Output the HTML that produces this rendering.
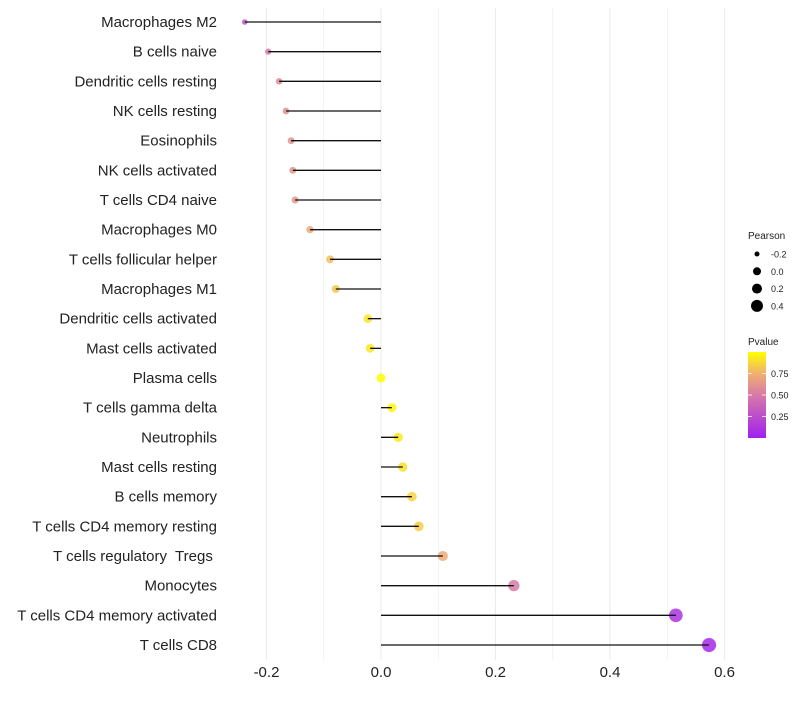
<!DOCTYPE html>
<html><head><meta charset="utf-8"><style>
body{margin:0;background:#fff;font-family:"Liberation Sans",sans-serif}
svg text{font-family:"Liberation Sans",sans-serif;white-space:pre}
</style></head><body>
<svg id="c" width="800" height="700"></svg>
<script>
const categories=["Macrophages M2","B cells naive","Dendritic cells resting","NK cells resting","Eosinophils","NK cells activated","T cells CD4 naive","Macrophages M0","T cells follicular helper","Macrophages M1","Dendritic cells activated","Mast cells activated","Plasma cells","T cells gamma delta","Neutrophils","Mast cells resting","B cells memory","T cells CD4 memory resting","T cells regulatory  Tregs ","Monocytes","T cells CD4 memory activated","T cells CD8"];
const pearson=[-0.238,-0.197,-0.178,-0.166,-0.157,-0.154,-0.150,-0.124,-0.089,-0.079,-0.023,-0.019,0.0,0.019,0.030,0.038,0.054,0.066,0.108,0.232,0.515,0.573];
const pvalues=[0.3,0.5,0.58,0.6,0.62,0.62,0.63,0.72,0.8,0.82,0.92,0.93,1.0,0.97,0.93,0.9,0.86,0.84,0.72,0.5,0.1,0.05];
const xTicks=[-0.2,0,0.2,0.4,0.6];
const xTickLabels=["-0.2","0.0","0.2","0.4","0.6"];
const sizeLegend=[-0.2,0.0,0.2,0.4];
const sizeLegendLabels=["-0.2","0.0","0.2","0.4"];
const pLegend=[0.25,0.5,0.75];
const pLegendLabels=["0.25","0.50","0.75"];

const NS="http://www.w3.org/2000/svg";
const svg=document.getElementById('c');
function el(t,a,p){const e=document.createElementNS(NS,t);for(const k in a)e.setAttribute(k,a[k]);(p||svg).appendChild(e);return e;}
const x=v=>381+v*572.5;
const y=i=>22+i*(623/21);
const r=v=>Math.sqrt(Math.max(2.5,20+52*v));
const stops=[[0,[160,32,240]],[0.5,[215,122,168]],[0.75,[240,176,112]],[1,[255,255,0]]];
function col(p){for(let i=1;i<stops.length;i++){if(p<=stops[i][0]){const a=stops[i-1],b=stops[i];const t=(p-a[0])/(b[0]-a[0]);const c=a[1].map((v,j)=>Math.round(v+(b[1][j]-v)*t));return `rgb(${c})`;}}return 'rgb(255,255,0)';}

for(let k=-2;k<=6;k++){const v=k/10;const g=el('line',{x1:x(v),x2:x(v),y1:8,y2:660,stroke:'#ebebeb','stroke-width':k%2===0?1.1:0.6});

}

xTicks.forEach((v,i)=>{const t=el('text',{x:x(v),y:677,'text-anchor':'middle','font-size':15,fill:'#222'});t.textContent=xTickLabels[i];

});

categories.forEach((c,i)=>{
const t=el('text',{x:217,y:y(i)+5,'text-anchor':'end','font-size':15,fill:'#222','xml:space':'preserve'});t.textContent=c;


const d=el('circle',{cx:x(pearson[i]),cy:y(i),r:r(pearson[i]),fill:col(pvalues[i]),'fill-opacity':0.85});


const l=el('line',{x1:x(0),x2:x(pearson[i]),y1:y(i),y2:y(i),stroke:'#111','stroke-width':1.3});


});

let t=el('text',{x:748,y:239,'font-size':10,fill:'#222'});t.textContent='Pearson';


sizeLegend.forEach((v,i)=>{const cy=254+i*17.3;
const c=el('circle',{cx:757,cy:cy,r:[2.5,4,5,6][i],fill:'#000'});


const tt=el('text',{x:771,y:cy+3.5,'font-size':9,fill:'#222'});tt.textContent=sizeLegendLabels[i];

});

t=el('text',{x:748,y:345,'font-size':10,fill:'#222'});t.textContent='Pvalue';


const defs=el('defs',{});const lg=el('linearGradient',{id:'g',x1:0,y1:1,x2:0,y2:0},defs);
stops.forEach(s=>el('stop',{offset:s[0],'stop-color':`rgb(${s[1]})`},lg));
const bar=el('rect',{x:748,y:352,width:18,height:86,fill:'url(#g)'});


pLegend.forEach((v,i)=>{const cy=438-v*86;
el('line',{x1:748,x2:752,y1:cy,y2:cy,stroke:'#fff','stroke-width':0.8});el('line',{x1:762,x2:766,y1:cy,y2:cy,stroke:'#fff','stroke-width':0.8});
const tt=el('text',{x:771,y:cy+3.5,'font-size':9,fill:'#222'});tt.textContent=pLegendLabels[i];

});
</script>
</body></html>
